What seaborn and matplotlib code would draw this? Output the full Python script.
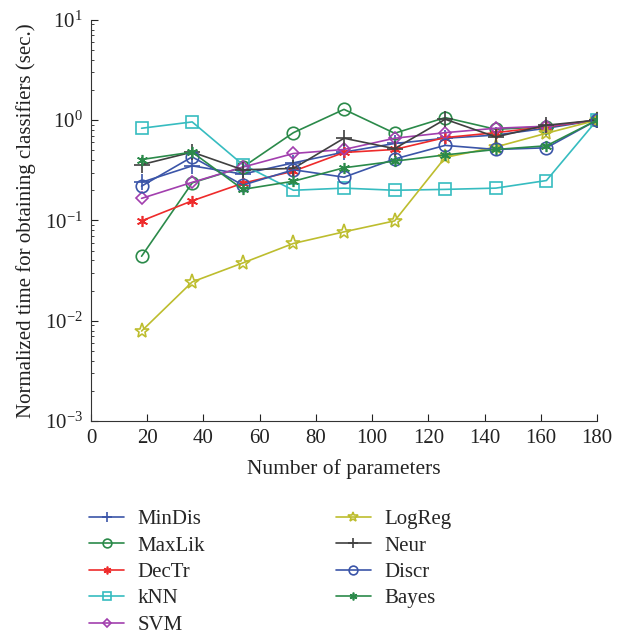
import pandas as pd
import numpy as np
import matplotlib
matplotlib.use("Agg")
import matplotlib.pyplot as plt
import seaborn as sns

# Data
params = [18, 36, 54, 72, 90, 108, 126, 144, 162, 180]
min_dis = [0.24, 0.35, 0.29, 0.375, 0.48, 0.585, 0.66, 0.71, 0.83, 1.0]
max_lik = [0.044, 0.237, 0.34, 0.75, 1.28, 0.74, 1.06, 0.81, 0.86, 1.0]
dec_tr = [0.099, 0.157, 0.235, 0.31, 0.476, 0.51, 0.67, 0.75, 0.86, 1.0]
knn = [0.83, 0.96, 0.36, 0.20, 0.21, 0.20, 0.204, 0.21, 0.25, 1.0]
svm = [0.166, 0.24, 0.34, 0.465, 0.51, 0.66, 0.75, 0.83, 0.87, 1.0]
log_reg = [0.0079, 0.0244, 0.0377, 0.059, 0.077, 0.099, 0.425, 0.54, 0.74, 1.0]
neur = [0.36, 0.48, 0.32, 0.33, 0.66, 0.52, 1.02, 0.68, 0.89, 1.0]
discr = [0.22, 0.43, 0.225, 0.32, 0.27, 0.41, 0.56, 0.51, 0.53, 1.0]
bayes = [0.405, 0.48, 0.204, 0.246, 0.335, 0.39, 0.45, 0.51, 0.555, 1.0]

names = ["MinDis", "MaxLik", "DecTr", "kNN", "SVM", "LogReg", "Neur", "Discr", "Bayes"]
values = [min_dis, max_lik, dec_tr, knn, svm, log_reg, neur, discr, bayes]

df = pd.DataFrame({"Parameters": params})
for name, vals in zip(names, values):
    df[name] = vals
long_df = df.melt(id_vars="Parameters", var_name="Classifier", value_name="Time")

colors = {
    "MinDis": "#3b55a8",
    "MaxLik": "#2b8a4a",
    "DecTr": "#ee2b2b",
    "kNN": "#36bcc0",
    "SVM": "#a23fae",
    "LogReg": "#bdbd2e",
    "Neur": "#404040",
    "Discr": "#3b55a8",
    "Bayes": "#2b8a4a",
}
markers = {
    "MinDis": "+",
    "MaxLik": "o",
    "DecTr": (6, 2, 0),
    "kNN": "s",
    "SVM": "D",
    "LogReg": "*",
    "Neur": "+",
    "Discr": "o",
    "Bayes": (6, 2, 0),
}
sizes = {"MinDis": 11, "MaxLik": 9, "DecTr": 8, "kNN": 8, "SVM": 6.5,
         "LogReg": 11, "Neur": 11, "Discr": 9, "Bayes": 8}

sns.set_style("ticks")
plt.rcParams["font.family"] = ["Liberation Serif", "DejaVu Serif"]
plt.rcParams["mathtext.fontset"] = "stix"

fig = plt.figure(figsize=(6.43, 6.39), dpi=100)
ax = fig.add_axes([0.1415, 0.341, 0.787, 0.628])

for name in names:
    sub = long_df[long_df["Classifier"] == name]
    sns.lineplot(data=sub, x="Parameters", y="Time", ax=ax, color=colors[name],
                 marker=markers[name], markersize=sizes[name], markerfacecolor="none",
                 markeredgecolor=colors[name], markeredgewidth=1.2, linewidth=1.2,
                 label=name, legend=False)

ax.set_yscale("log")
ax.set_ylim(1e-3, 1e1)
ax.set_xlim(0, 180)
ax.set_xticks(np.arange(0, 181, 20))
ax.tick_params(direction="in", which="both", labelsize=15, colors="#222222", pad=6)
ax.tick_params(which="major", length=5)
ax.tick_params(which="minor", length=2.5)
sns.despine(ax=ax)
ax.spines["left"].set_color("#333333")
ax.spines["bottom"].set_color("#333333")
ax.set_xlabel("Number of parameters", fontsize=15.5, color="#222222", labelpad=8)
ax.set_ylabel("Normalized time for obtaining classifiers (sec.)", fontsize=15,
              color="#222222", labelpad=6)

handles, labels = ax.get_legend_handles_labels()
fig.legend(handles, labels, ncol=2, frameon=False, loc="upper left",
           bbox_to_anchor=(0.11, 0.232), fontsize=15, handlelength=1.65,
           columnspacing=6.3, labelspacing=0.33, handletextpad=0.65,
           markerscale=0.7)

fig.savefig("out.png", dpi=100)
